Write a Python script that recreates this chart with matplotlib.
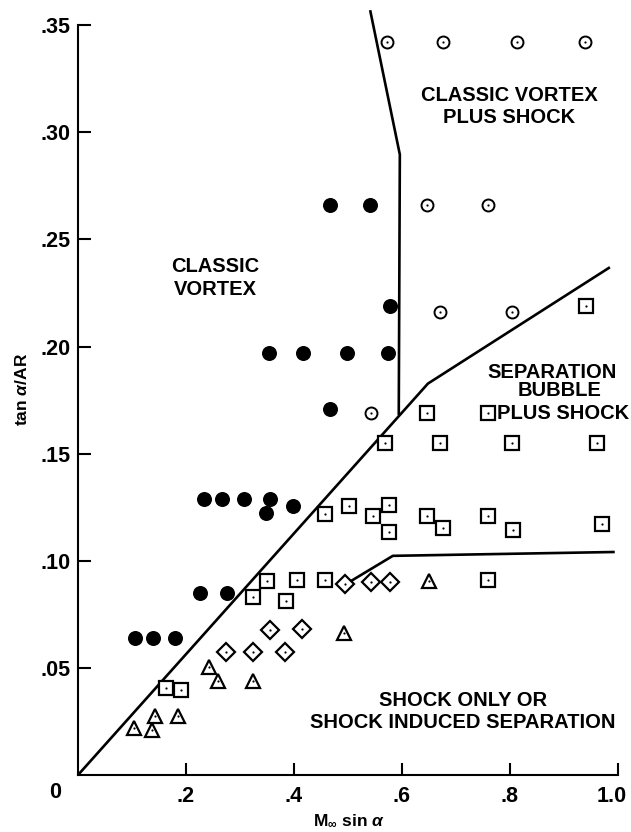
import matplotlib
matplotlib.use("Agg")
import matplotlib.pyplot as plt
import matplotlib.transforms as mtransforms

plt.rcParams['font.family'] = ['Liberation Sans', 'DejaVu Sans']
plt.rcParams['font.weight'] = 'bold'
plt.rcParams['mathtext.fontset'] = 'custom'
plt.rcParams['mathtext.rm'] = 'Liberation Sans:bold'
plt.rcParams['mathtext.it'] = 'Liberation Sans:italic:bold'
plt.rcParams['mathtext.bf'] = 'Liberation Sans:bold'

# ---- data ----
# Classic vortex (filled circles)
vortex_x = [0.106, 0.139, 0.180, 0.226, 0.276, 0.233, 0.267, 0.307, 0.356, 0.348, 0.398,
            0.467, 0.354, 0.417, 0.498, 0.574, 0.578, 0.467, 0.541]
vortex_y = [0.064, 0.064, 0.064, 0.085, 0.085, 0.129, 0.129, 0.129, 0.129, 0.1225, 0.1257,
            0.171, 0.197, 0.197, 0.197, 0.197, 0.219, 0.266, 0.266]

# Classic vortex plus shock (dotted open circles)
vshock_x = [0.572, 0.676, 0.813, 0.939, 0.646, 0.759, 0.670, 0.804, 0.543]
vshock_y = [0.342, 0.342, 0.342, 0.342, 0.266, 0.266, 0.216, 0.216, 0.169]

# Separation bubble plus shock (dotted squares)
bubble_x = [0.941, 0.646, 0.759, 0.569, 0.670, 0.804, 0.961,
            0.457, 0.502, 0.546, 0.576, 0.576, 0.646, 0.676, 0.759, 0.806, 0.970,
            0.324, 0.350, 0.385, 0.406, 0.457, 0.759, 0.163, 0.191]
bubble_y = [0.219, 0.169, 0.169, 0.155, 0.155, 0.155, 0.155,
            0.1216, 0.1257, 0.1211, 0.1261, 0.1133, 0.1211, 0.1151, 0.1211, 0.1142, 0.1170,
            0.083, 0.0904, 0.0812, 0.0908, 0.0908, 0.0908, 0.0405, 0.0396]

# Dotted diamonds
diam_x = [0.274, 0.324, 0.356, 0.383, 0.415, 0.494, 0.543, 0.578]
diam_y = [0.0573, 0.0573, 0.0679, 0.0573, 0.0683, 0.0890, 0.0899, 0.0899]

# Dotted triangles
tri_x = [0.104, 0.137, 0.143, 0.185, 0.243, 0.259, 0.324, 0.493, 0.650]
tri_y = [0.0221, 0.0212, 0.0275, 0.0275, 0.0505, 0.0437, 0.0437, 0.0665, 0.0904]

# Boundary lines
sep_x = [0.0, 0.648, 0.985]
sep_y = [0.0, 0.1827, 0.237]
vort_x = [0.541, 0.596, 0.594]
vort_y = [0.357, 0.2896, 0.168]
shock_x = [0.498, 0.583, 0.994]
shock_y = [0.0894, 0.1023, 0.1041]

yticks = [0.05, 0.10, 0.15, 0.20, 0.25, 0.30, 0.35]
ytick_labels = ['.05', '.10', '.15', '.20', '.25', '.30', '.35']
xticks = [0.2, 0.4, 0.6, 0.8, 1.0]
xtick_labels = ['.2', '.4', '.6', '.8', '1.0']

# ---- figure ----
fig = plt.figure(figsize=(6.31, 8.32), dpi=100)
ax = fig.add_axes([78 / 631, 0.0685, 540 / 631, 0.927])
ax.set_xlim(0, 1.0)
ax.set_ylim(0, 0.36)

lw = 1.9
ax.plot(sep_x, sep_y, color='black', lw=lw, solid_capstyle='butt', zorder=2)
ax.plot(vort_x, vort_y, color='black', lw=lw, solid_capstyle='butt', zorder=2)
ax.plot(shock_x, shock_y, color='black', lw=lw, solid_capstyle='butt', zorder=2)

ax.plot(vortex_x, vortex_y, 'o', color='black', ms=10.8, mew=0, zorder=3)

def dotted(x, y, marker, ms, mew=1.4):
    ax.plot(x, y, marker, ms=ms, mfc='white', mec='black', mew=mew, zorder=3, ls='none')
    ax.plot(x, y, 'o', ms=1.6, color='black', mew=0, zorder=4, ls='none')

dotted(vshock_x, vshock_y, 'o', 8.6)
dotted(bubble_x, bubble_y, 's', 9.4, mew=1.6)
dotted(diam_x, diam_y, 'D', 9.0, mew=1.6)
dotted(tri_x, tri_y, '^', 9.6, mew=1.6)

# ---- axes styling ----
for s in ['top', 'right']:
    ax.spines[s].set_visible(False)
ax.spines['left'].set_bounds(0, 0.35)
ax.spines['bottom'].set_bounds(0, 1.0)
for s in ['left', 'bottom']:
    ax.spines[s].set_linewidth(1.5)

ax.set_yticks(yticks)
ax.set_yticklabels(ytick_labels, fontsize=15.5, fontweight='bold')
ax.set_xticks(xticks)
ax.set_xticklabels(xtick_labels, fontsize=15.5, fontweight='bold')
ax.tick_params(axis='y', direction='in', length=9, width=1.5, pad=5.5)
ax.tick_params(axis='x', direction='in', length=9, width=1.5, pad=8)

# nudge the last x tick label ("1.0") slightly left so it stays inside the figure
last = ax.get_xticklabels()[-1]
last.set_transform(last.get_transform() +
                   mtransforms.ScaledTranslation(-6 / 100, 0, fig.dpi_scale_trans))

fig.text(55 / 631, 1 - 793 / 832, '0', fontsize=15.5, fontweight='bold',
         ha='center', va='center')

fig.text(22 / 631, 1 - 389 / 832, r'tan $\alpha$/AR', fontsize=12.5, fontweight='bold',
         rotation=90, ha='center', va='center')
fig.text(349 / 631, 1 - 821 / 832, r'M$_{\infty}$ sin $\alpha$', fontsize=12.5,
         fontweight='bold', ha='center', va='center')

# ---- region labels ----
lab = dict(fontsize=14.5, fontweight='bold', ha='center', va='center', linespacing=1.25)
ax.text(0.254, 0.232, 'CLASSIC\nVORTEX', **lab)
ax.text(0.798, 0.312, 'CLASSIC VORTEX\nPLUS SHOCK', **lab)
ax.text(0.878, 0.188, 'SEPARATION', **lab)
ax.text(0.891, 0.1793, 'BUBBLE', **lab)
ax.text(0.898, 0.1688, 'PLUS SHOCK', **lab)
ax.text(0.713, 0.0297, 'SHOCK ONLY OR\nSHOCK INDUCED SEPARATION', **lab)

fig.savefig('out.png', dpi=100, facecolor='white')
